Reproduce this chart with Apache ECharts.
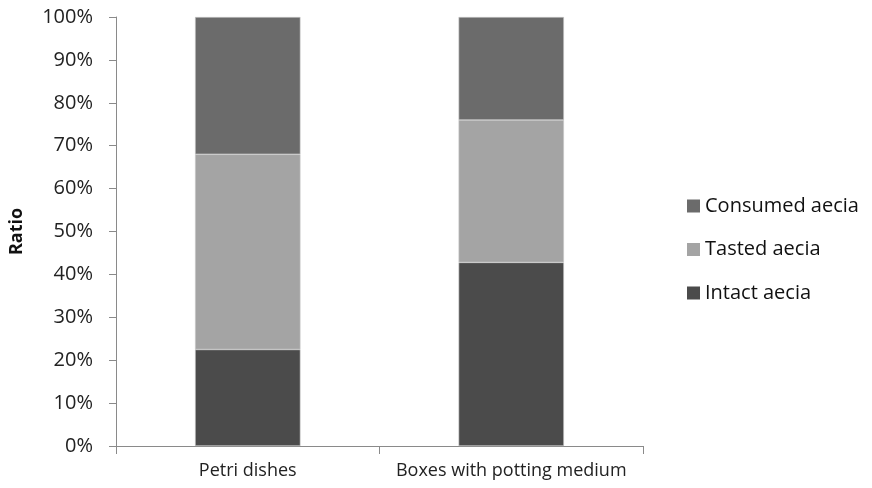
<!DOCTYPE html>
<html>
<head>
<meta charset="utf-8">
<script src="https://cdn.jsdelivr.net/npm/echarts@6/dist/echarts.min.js"></script>
<style>html,body{margin:0;padding:0;background:#fff}#c{width:872px;height:488px}</style>
</head>
<body>
<div id="c"></div>
<script>
const categories = ['Petri dishes', 'Boxes with potting medium'];
const intact = [0.225, 0.428];
const tasted = [0.455, 0.332];
const consumed = [0.320, 0.240];
const seriesNames = ['Intact aecia', 'Tasted aecia', 'Consumed aecia'];
const yTicks = [0, 0.1, 0.2, 0.3, 0.4, 0.5, 0.6, 0.7, 0.8, 0.9, 1.0];

const font = 'Open Sans, Liberation Sans, sans-serif';
const colors = ['#4b4b4b', '#a4a4a4', '#6b6b6b'];
const chart = echarts.init(document.getElementById('c'));
const data = [intact, tasted, consumed];
chart.setOption({
  animation: false,
  grid: { left: 116, right: 229, top: 17, bottom: 42, containLabel: false },
  xAxis: {
    type: 'category',
    data: categories,
    axisLine: { lineStyle: { color: '#8a8a8a', width: 1 } },
    axisTick: { show: true, length: 8, alignWithLabel: false, lineStyle: { color: '#8a8a8a' } },
    axisLabel: { interval: 0, color: '#222', fontSize: 18, fontFamily: font, margin: 16 }
  },
  yAxis: {
    type: 'value',
    min: yTicks[0], max: yTicks[yTicks.length - 1], interval: 0.1,
    name: 'Ratio',
    nameLocation: 'middle',
    nameGap: 90,
    nameTextStyle: { color: '#111', fontSize: 18, fontWeight: 'bold', fontFamily: font },
    axisLine: { show: true, lineStyle: { color: '#8a8a8a', width: 1 } },
    axisTick: { show: true, length: 7, lineStyle: { color: '#8a8a8a' } },
    splitLine: { show: false },
    axisLabel: { color: '#222', fontSize: 20, fontFamily: font, margin: 23,
      formatter: v => Math.round(v * 100) + '%' }
  },
  legend: {
    orient: 'vertical',
    left: 682, top: 191,
    itemWidth: 13, itemHeight: 13,
    itemGap: 23.5,
    icon: 'rect',
    itemStyle: { borderWidth: 0 },
    data: ['Consumed aecia', 'Tasted aecia', 'Intact aecia'],
    textStyle: { color: '#111', fontSize: 20, lineHeight: 20, fontFamily: font }
  },
  series: seriesNames.map((n, i) => ({
    name: n,
    type: 'bar',
    stack: 'total',
    barWidth: '40%',
    data: data[i],
    itemStyle: { color: colors[i], borderColor: '#c8c8c8', borderWidth: 0.6 }
  }))
});
</script>
</body>
</html>
